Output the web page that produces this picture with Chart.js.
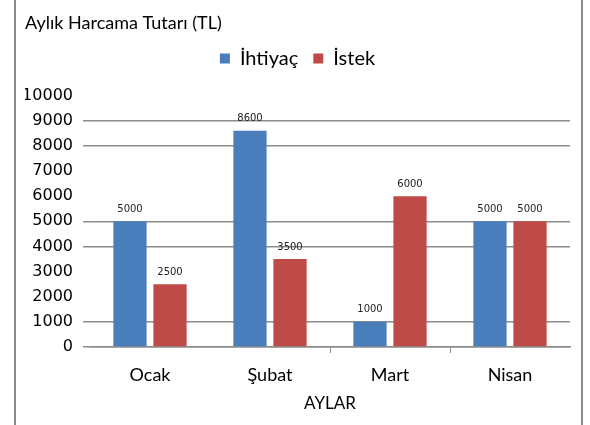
<!DOCTYPE html>
<html>
<head>
<meta charset="utf-8">
<script src="https://cdn.jsdelivr.net/npm/chart.js@4"></script>
<style>
    body { margin: 0; background: #fff; }
    #wrap { position: relative; width: 590px; height: 425px; }
    .edge { position: absolute; top: 0; width: 2px; height: 425px; background: #8c8c8c; }
</style>
</head>
<body>
<div id="wrap">
    <canvas id="harcamaChart" width="590" height="425"></canvas>
    <div class="edge" style="left:14px"></div>
    <div class="edge" style="left:581px"></div>
</div>
<script>
// Chart data
const months = ['Ocak', 'Şubat', 'Mart', 'Nisan'];
const ihtiyac = [5000, 8600, 1000, 5000];
const istek = [2500, 3500, 6000, 5000];
const yTicks = [0, 1000, 2000, 3000, 4000, 5000, 6000, 7000, 8000, 9000, 10000];

// The original only shows some of the horizontal lines
const linedValues = [0, 1000, 4000, 5000, 8000, 9000];

const labelFont = 'Lato, "DejaVu Sans", sans-serif';

// Draw the small value labels above each bar
const barLabels = {
    id: 'barLabels',
    afterDatasetsDraw(chart) {
        const ctx = chart.ctx;
        ctx.save();
        ctx.font = '10px "DejaVu Sans"';
        ctx.fillStyle = '#222';
        ctx.textAlign = 'center';
        ctx.textBaseline = 'bottom';
        chart.data.datasets.forEach((ds, i) => {
            chart.getDatasetMeta(i).data.forEach((bar, j) => {
                ctx.fillText(ds.data[j], bar.x, bar.y - 7);
            });
        });
        ctx.restore();
    }
};

// Leave more room under the legend, like the original
const legendSpace = {
    id: 'legendSpace',
    afterInit(chart) {
        const legend = chart.legend;
        const fit = legend.fit;
        legend.fit = function () {
            fit.call(this);
            this.height += 17;
        };
    }
};

const ctx = document.getElementById('harcamaChart').getContext('2d');
new Chart(ctx, {
    type: 'bar',
    data: {
        labels: months,
        datasets: [{
            label: 'İhtiyaç',
            data: ihtiyac,
            backgroundColor: '#4a7ebb'
        }, {
            label: 'İstek',
            data: istek,
            backgroundColor: '#be4b48'
        }]
    },
    options: {
        responsive: false,
        animation: false,
        barPercentage: 0.83,
        categoryPercentage: 0.667,
        layout: {
            padding: { left: 25, right: 20, top: 0, bottom: 0 }
        },
        plugins: {
            title: {
                display: true,
                text: 'Aylık Harcama Tutarı (TL)',
                align: 'start',
                color: '#000',
                font: { family: labelFont, size: 18, weight: 'normal' },
                padding: { top: 12, bottom: 0 }
            },
            legend: {
                labels: {
                    color: '#000',
                    boxWidth: 10,
                    boxHeight: 10,
                    padding: 15,
                    font: { family: labelFont, size: 20 }
                }
            },
            tooltip: { enabled: false }
        },
        scales: {
            y: {
                min: 0,
                max: 10000,
                afterBuildTicks: scale => {
                    scale.ticks = yTicks.map(v => ({ value: v }));
                },
                afterFit: scale => { scale.width = 65; },
                border: { display: false },
                grid: {
                    tickLength: 7,
                    lineWidth: 1.5,
                    color: c => linedValues.includes(c.tick.value) ? '#8c8c8c' : 'transparent'
                },
                ticks: {
                    padding: 10,
                    color: '#000',
                    font: { family: '"DejaVu Sans"', size: 16 },
                    callback: value => String(value)
                }
            },
            x: {
                afterFit: scale => { scale.height = 78; },
                border: { display: true, color: '#8c8c8c', width: 1.5 },
                grid: {
                    offset: true,
                    drawOnChartArea: false,
                    tickLength: 6,
                    tickColor: c => (c.index === 2 || c.index === 3) ? '#8c8c8c' : 'transparent'
                },
                ticks: {
                    padding: 11,
                    color: '#000',
                    font: { family: labelFont, size: 18 }
                },
                title: {
                    display: true,
                    text: 'AYLAR',
                    color: '#000',
                    font: { family: labelFont, size: 17 },
                    padding: { top: 0, bottom: 11 }
                }
            }
        }
    },
    plugins: [barLabels, legendSpace]
});
</script>
</body>
</html>
